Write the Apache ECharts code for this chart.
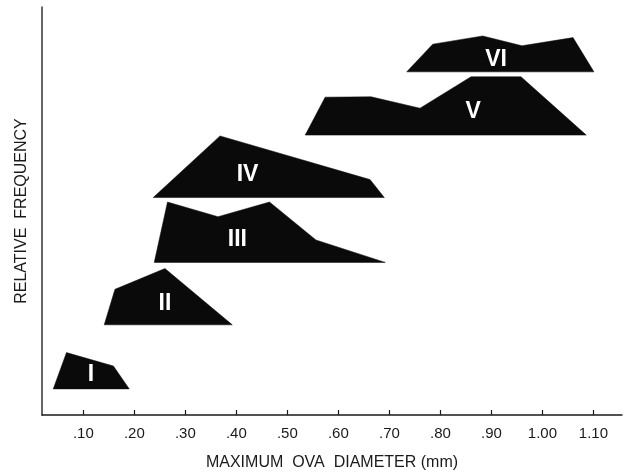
<!DOCTYPE html>
<html><head><meta charset="utf-8">
<script src="https://cdn.jsdelivr.net/npm/echarts@6/dist/echarts.min.js"></script>
<style>html,body{margin:0;padding:0;background:#fff}#c{width:637px;height:472px}</style>
</head><body><div id="c"></div>
<script>
// tick values and labels
const tickValues = [0.1, 0.2, 0.3, 0.4, 0.5, 0.6, 0.7, 0.8, 0.9, 1.0, 1.1];
const tickLabels = ['.10', '.20', '.30', '.40', '.50', '.60', '.70', '.80', '.90', '1.00', '1.10'];

// group names
const groupNames = ['I', 'II', 'III', 'IV', 'V', 'VI'];

// polygon vertices (x = max ova diameter mm, y = relative frequency, stacked with offset baseline)
const xI   = [0.041, 0.067, 0.159, 0.190];
const yI   = [6.4, 15.3, 12.0, 6.4];
const xII  = [0.141, 0.162, 0.260, 0.392];
const yII  = [22.1, 30.8, 35.9, 22.1];
const xIII = [0.239, 0.265, 0.364, 0.465, 0.556, 0.692];
const yIII = [37.4, 52.2, 48.6, 52.2, 42.9, 37.4];
const xIV  = [0.237, 0.368, 0.662, 0.690];
const yIV  = [53.3, 68.4, 57.7, 53.3];
const xV   = [0.535, 0.574, 0.664, 0.760, 0.860, 0.958, 1.086];
const yV   = [68.6, 77.9, 78.0, 75.2, 82.9, 82.9, 68.6];
const xVI  = [0.734, 0.785, 0.883, 0.960, 1.060, 1.101];
const yVI  = [84.1, 90.9, 92.9, 90.5, 92.5, 84.1];

// label anchor positions
const labelX = [0.115, 0.260, 0.402, 0.422, 0.864, 0.909];
const labelY = [9.9, 27.2, 42.9, 58.8, 74.3, 87.0];

const polyX = [xI, xII, xIII, xIV, xV, xVI];
const polyY = [yI, yII, yIII, yIV, yV, yVI];

const series = groupNames.map((name, g) => ({
  type: 'custom',
  name: name,
  clip: false,
  data: [[labelX[g], labelY[g]]],
  renderItem: function (params, api) {
    const pts = polyX[g].map((x, i) => api.coord([x, polyY[g][i]]));
    const lp = api.coord([api.value(0), api.value(1)]);
    return {
      type: 'group',
      children: [
        { type: 'polygon', shape: { points: pts }, style: { fill: '#0a0a0a', stroke: '#0a0a0a', lineWidth: 0.5 } },
        { type: 'text', x: lp[0], y: lp[1], style: { text: name, fill: '#ffffff', font: 'bold 23px "Liberation Sans", Arial, sans-serif', align: 'center', verticalAlign: 'middle' } }
      ]
    };
  }
}));

const chart = echarts.init(document.getElementById('c'), null, { renderer: 'canvas' });
chart.setOption({
  backgroundColor: '#ffffff',
  animation: false,
  grid: { left: 42, right: 15, top: 7, bottom: 57, containLabel: false, outerBoundsMode: 'none' },
  xAxis: {
    type: 'value', min: 0.019, max: 1.156,
    name: 'MAXIMUM  OVA  DIAMETER (mm)', nameLocation: 'middle', nameGap: 40,
    nameTextStyle: { fontFamily: '"Liberation Sans", Arial, sans-serif', fontSize: 16, color: '#1a1a1a' },
    axisLine: { show: true, lineStyle: { color: '#1a1a1a', width: 1.5 } },
    axisTick: { show: true, inside: true, length: 5, customValues: tickValues, lineStyle: { color: '#1a1a1a', width: 1.2 } },
    axisLabel: { customValues: tickValues, margin: 11, fontFamily: '"Liberation Sans", Arial, sans-serif', fontSize: 15, color: '#1a1a1a',
      formatter: function (v) { const i = tickValues.findIndex(t => Math.abs(t - v) < 1e-6); return i >= 0 ? tickLabels[i] : ''; } },
    splitLine: { show: false }
  },
  yAxis: {
    type: 'value', min: 0, max: 100,
    name: 'RELATIVE  FREQUENCY', nameLocation: 'middle', nameGap: 12,
    nameTextStyle: { fontFamily: '"Liberation Sans", Arial, sans-serif', fontSize: 16, color: '#1a1a1a' },
    axisLine: { show: true, lineStyle: { color: '#333333', width: 1.5 } },
    axisTick: { show: false }, axisLabel: { show: false }, splitLine: { show: false }
  },
  series: series
});
</script></body></html>
